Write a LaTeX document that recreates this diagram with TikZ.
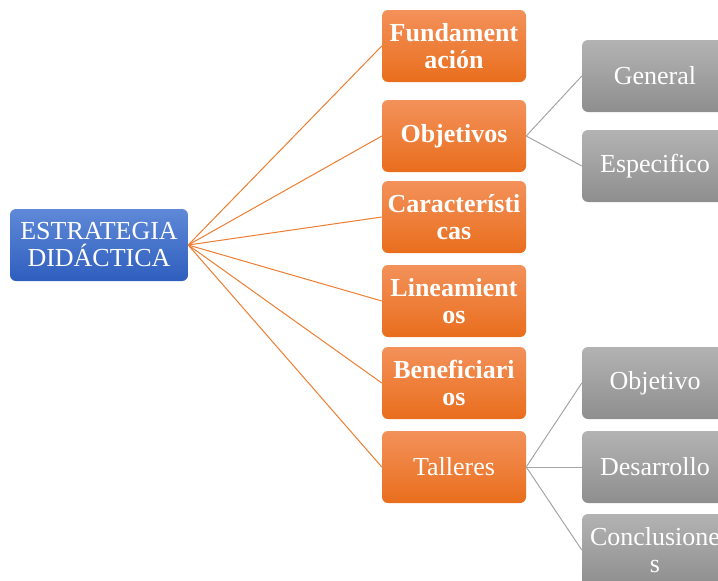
\documentclass[tikz,border=0pt]{standalone}
\usepackage{fontspec}
\setmainfont{Liberation Serif}
\definecolor{azulA}{HTML}{5F89D8}
\definecolor{azulB}{HTML}{2E5EBE}
\definecolor{naranjaA}{HTML}{F3915A}
\definecolor{naranjaB}{HTML}{E96E1D}
\definecolor{grisA}{HTML}{B3B3B3}
\definecolor{grisB}{HTML}{8E8E8E}
\definecolor{lineaN}{HTML}{ED7D31}
\definecolor{lineaG}{HTML}{A5A5A5}
\tikzstyle{caja} = [rectangle, rounded corners=6pt, minimum height=72pt, inner sep=0pt, text=white, align=center, font=\fontsize{26}{27}\selectfont]
\tikzstyle{raiz} = [caja, minimum width=178pt, top color=azulA, bottom color=azulB]
\tikzstyle{rama} = [caja, minimum width=144pt, top color=naranjaA, bottom color=naranjaB, font=\fontsize{26}{27}\selectfont\bfseries]
\tikzstyle{hoja} = [caja, minimum width=146pt, top color=grisA, bottom color=grisB]
\tikzstyle{unionN} = [draw=lineaN, line width=1pt]
\tikzstyle{unionG} = [draw=lineaG, line width=1pt]

\begin{document}
\begin{tikzpicture}[x=1pt, y=-1pt]%
				\clip (0,0) rectangle (718,581);
				% centro
				\node [raiz] (estr) at (99,245) {ESTRATEGIA\\DID\'ACTICA};
				% primer nivel
				\node [rama] (fund) at (454,46) {Fundament\\aci\'on};
				\node [rama] (obj) at (454,136) {Objetivos};
				\node [rama] (car) at (454,217) {Caracter\'isti\\cas};
				\node [rama] (lin) at (454,301) {Lineamient\\os};
				\node [rama] (ben) at (454,383) {Beneficiari\\os};
				\node [rama, font=\fontsize{26}{27}\selectfont] (tal) at (454,467) {Talleres};
				% segundo nivel
				\node [hoja] (gen) at (655,76) {General};
				\node [hoja] (esp) at (655,166) {Especifico};
				\node [hoja] (tobj) at (655,383) {Objetivo};
				\node [hoja] (des) at (655,467) {Desarrollo};
				\node [hoja] (con) at (655,550) {Conclusione\\s};
				% uniones
				\foreach \r in {fund, obj, car, lin, ben, tal}
					\draw [unionN] (estr.east) -- (\r.west);
				\foreach \h in {gen, esp}
					\draw [unionG] (obj.east) -- (\h.west);
				\foreach \h in {tobj, des, con}
					\draw [unionG] (tal.east) -- (\h.west);
	\end{tikzpicture}
\end{document}
